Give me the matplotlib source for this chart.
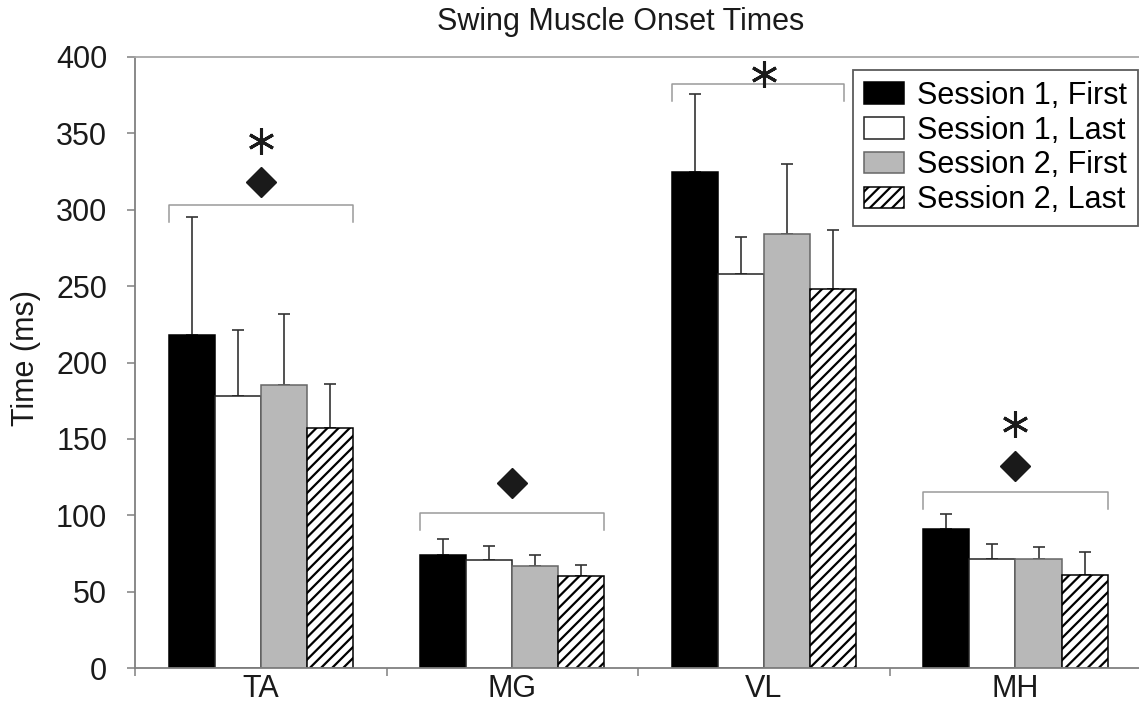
import numpy as np
import matplotlib.pyplot as plt
import matplotlib as mpl

plt.rcParams['font.family'] = ['Liberation Sans', 'DejaVu Sans']
plt.rcParams['hatch.linewidth'] = 1.6

categories = ['TA', 'MG', 'VL', 'MH']
series_names = ['Session 1, First', 'Session 1, Last', 'Session 2, First', 'Session 2, Last']
s1_first = [218, 74, 325, 91]
s1_first_err = [77, 10.5, 51, 10]
s1_last = [178, 71, 258, 71.5]
s1_last_err = [43, 9, 24, 10]
s2_first = [185, 67, 284, 71.5]
s2_first_err = [47, 7, 46, 8]
s2_last = [157, 60, 248, 61]
s2_last_err = [29, 7.5, 38.5, 15]

# significance annotations
bracket_y = [303, 101.5, 382, 115]
diamond_cats = [0, 1, 3]
diamond_y = [318, 121, 132]
star_cats = [0, 2, 3]
star_y = [345, 389, 160]

means = [s1_first, s1_last, s2_first, s2_last]
errs = [s1_first_err, s1_last_err, s2_first_err, s2_last_err]
fills = ['black', 'white', '#b8b8b8', 'white']
edges = ['black', '#222222', '#666666', 'black']
hatches = [None, None, None, '///']

W, H = 1139, 704
fig = plt.figure(figsize=(W / 100, H / 100), dpi=100)
ax = fig.add_axes([135 / W, 36 / H, 1.0 - 135 / W + 0.002, (668 - 57) / H])

x = np.arange(len(categories))
bw = 0.183
handles = []
for i in range(4):
    pos = x + (i - 1.5) * bw
    b = ax.bar(pos, means[i], bw, color=fills[i], edgecolor=edges[i],
               linewidth=1.1, hatch=hatches[i], label=series_names[i], zorder=2)
    handles.append(b)
    ax.errorbar(pos, means[i], yerr=[np.zeros(4), errs[i]], fmt='none',
                ecolor='#333333', elinewidth=1.2, capsize=4, capthick=1.2, zorder=1)

# brackets
left_off = [-2 * bw, -2 * bw, -2 * bw, -2 * bw]
right_off = [2 * bw, 2 * bw, 0.32, 2 * bw]
for i, yb in enumerate(bracket_y):
    xl = x[i] + left_off[i]
    xr = x[i] + right_off[i]
    ax.plot([xl, xl, xr, xr], [yb - 11, yb, yb, yb - 11], color='#9a9a9a', lw=1.1, zorder=3)

ax.plot(x[diamond_cats], diamond_y, 'D', color='#1a1a1a', markersize=15, ls='none', zorder=3)
ax.plot(x[star_cats], star_y, marker=(6, 2, 0), color='#1a1a1a', markersize=19,
        mew=2.2, ls='none', zorder=3)

ax.set_xlim(-0.5, 3.5)
ax.set_ylim(0, 400)
ax.set_yticks(np.arange(0, 401, 50))
ax.set_xticks(x)
ax.set_xticklabels(categories)
ax.set_xticks(np.arange(-0.5, 3.6, 1), minor=True)
ax.tick_params(axis='x', which='major', length=0, pad=4.5, labelsize=22, labelcolor='#1a1a1a')
ax.tick_params(axis='x', which='minor', length=6, width=1.1, color='#808080', direction='out')
ax.tick_params(axis='y', length=6, width=1.1, color='#808080', pad=14, labelsize=22,
               labelcolor='#1a1a1a')

for s in ['left', 'bottom']:
    ax.spines[s].set_color('#808080')
    ax.spines[s].set_linewidth(1.3)
ax.spines['top'].set_color('#a8a8a8')
ax.spines['top'].set_linewidth(1.3)
ax.spines['right'].set_visible(False)

leg = ax.legend(handles=handles, loc='upper right', bbox_to_anchor=(1138 / W, 1 - 70 / H),
                bbox_transform=fig.transFigure, fontsize=22, frameon=True, fancybox=False,
                borderaxespad=0, borderpad=0.35, labelspacing=0.16, handlelength=1.3,
                handleheight=0.7, handletextpad=0.45)
leg.get_frame().set_edgecolor('#333333')
leg.get_frame().set_linewidth(1.3)

fig.text(621 / W, 1 - 22 / H, 'Swing Muscle Onset Times', ha='center', va='center',
         fontsize=22, color='#1a1a1a')
fig.text(26 / W, 1 - 358 / H, 'Time (ms)', ha='center', va='center', rotation=90,
         fontsize=22, color='#1a1a1a')

fig.savefig('out.png', dpi=100)
